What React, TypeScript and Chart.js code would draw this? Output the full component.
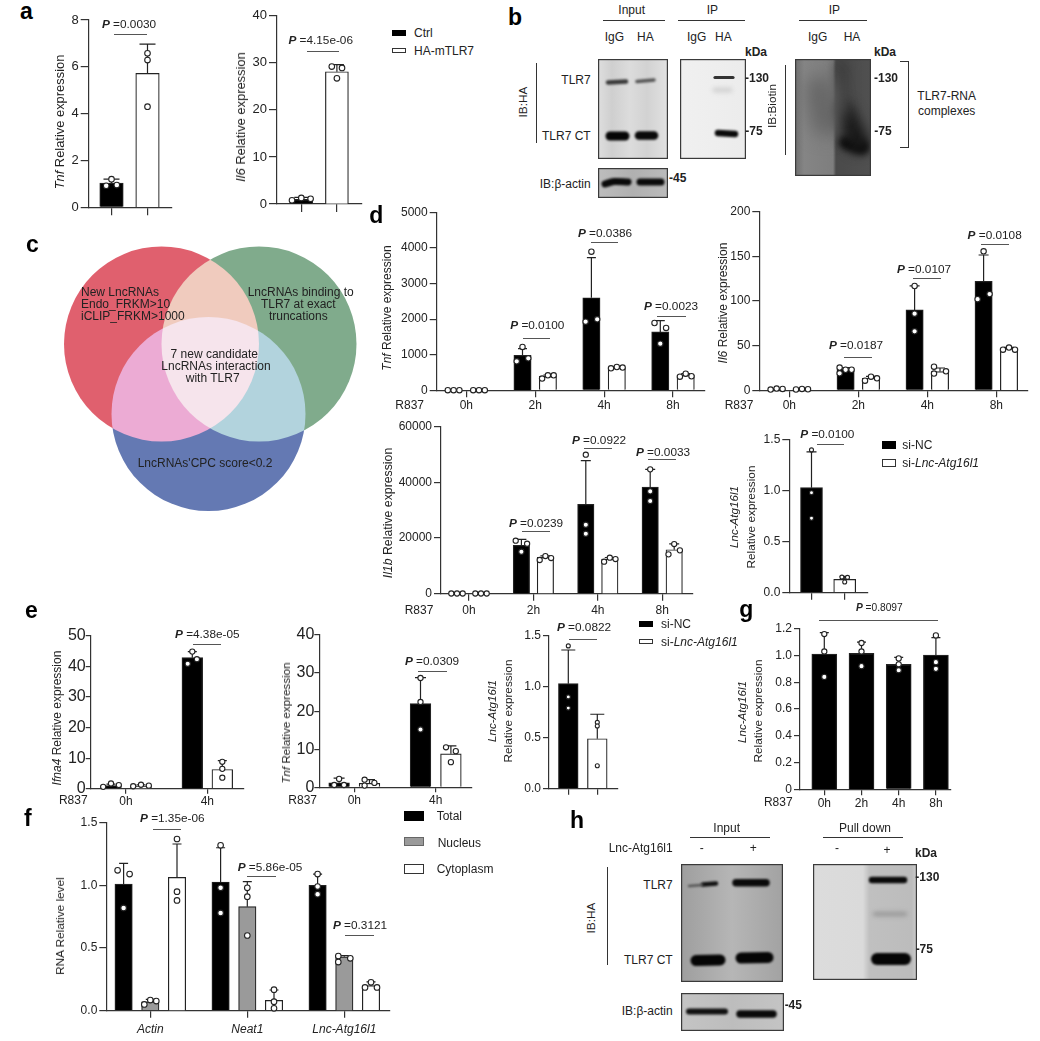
import React, { useEffect, useRef } from "react";
import { Chart, registerables } from "chart.js";

Chart.register(...registerables);
Chart.defaults.font.family = '"Liberation Sans", Arial, sans-serif';
Chart.defaults.color = "#222";

// ---------- panel a ----------
const aTnfMeans = [1.03, 5.72];
const aTnfTops = [1.2, 6.97];
const aTnfPoints = [[0.92, 1.2, 0.95], [6.58, 6.29, 4.3]];
const aIl6Means = [1.0, 28.1];
const aIl6Tops = [1.4, 29.6];
const aIl6Points = [[0.8, 1.3, 1.1], [29.2, 26.7, 28.9]];

// ---------- panel d ----------
const timeLabels = ["0h", "2h", "4h", "8h"];
const dTnfNcMeans = [3, 980, 2600, 1640];
const dTnfNcTops = [5, 1170, 3727, 1957];
const dTnfNcPoints = [[3, 3, 3], [815, 1217, 899], [1929, 3895, 1994], [1891, 1311, 1751]];
const dTnfSiMeans = [3, 390, 640, 420];
const dTnfSiTops = [5, 430, 660, 470];
const dTnfSiPoints = [[3, 3, 3], [328, 421, 421], [618, 655, 637], [384, 468, 395]];

const dIl6NcMeans = [1, 24, 90, 122];
const dIl6NcTops = [2, 25.5, 117, 151.5];
const dIl6NcPoints = [[0.8, 1.9, 1.5], [25.4, 19, 23, 23], [116.8, 85.8, 66], [102, 155.6, 107.8]];
const dIl6SiMeans = [1, 13.5, 21, 47];
const dIl6SiTops = [1.6, 15.5, 25, 48];
const dIl6SiPoints = [[0.9, 1.5, 1.2], [10.8, 15.3, 13.4], [26.5, 18.7, 21.3], [45.5, 47.8, 45.5]];

const dIl1bNcMeans = [80, 17365, 32100, 38320];
const dIl1bNcTops = [120, 19520, 47780, 44670];
const dIl1bNcPoints = [[80, 80, 80], [19040, 15090, 17960], [49940, 24790, 21560], [44670, 36770, 33300]];
const dIl1bSiMeans = [80, 13050, 12450, 15800];
const dIl1bSiTops = [120, 13600, 13000, 17900];
const dIl1bSiPoints = [[80, 80, 80], [12100, 13530, 12800], [11500, 12930, 12450], [14130, 17840, 15570]];

const dLncMeans = [1.03, 0.13];
const dLncTops = [1.38, 0.16];
const dLncPoints = [[1.4, 0.98, 0.73], [0.153, 0.105, 0.15]];

// ---------- panel e ----------
const eLabels = ["0h", "4h"];
const eIfnaNcMeans = [1.0, 42.9];
const eIfnaNcTops = [1.5, 44.9];
const eIfnaNcPoints = [[0.6, 1.7, 1.2], [40.9, 44.9, 42.4]];
const eIfnaSiMeans = [0.9, 6.3];
const eIfnaSiTops = [1.3, 9.2];
const eIfnaSiPoints = [[0.8, 1.3, 1.0], [8.8, 6.5, 3.6]];
const eTnfNcMeans = [1.2, 22];
const eTnfNcTops = [2.4, 28.8];
const eTnfNcPoints = [[0.6, 2.2, 0.6], [28.7, 22.4, 15.2]];
const eTnfSiMeans = [1.05, 8.8];
const eTnfSiTops = [2.0, 10.9];
const eTnfSiPoints = [[0.45, 2.0, 1.15], [10.5, 6.6, 9.5]];
const eLncMeans = [1.03, 0.49];
const eLncTops = [1.36, 0.73];
const eLncPoints = [[1.4, 0.9, 0.79], [0.65, 0.614, 0.225]];

// ---------- panel f ----------
const fLabels = ["Actin", "Neat1", "Lnc-Atg16l1"];
const fTotalMeans = [1.01, 1.027, 1.0];
const fTotalTops = [1.176, 1.3, 1.09];
const fTotalPoints = [[1.12, 0.82, 1.09], [1.32, 0.98, 0.78], [1.09, 0.99, 0.93]];
const fNucleusMeans = [0.07, 0.83, 0.43];
const fNucleusTops = [0.09, 1.03, 0.44];
const fNucleusPoints = [[0.05, 0.085, 0.077], [0.98, 0.91, 0.6], [0.436, 0.388, 0.418]];
const fCytoMeans = [1.064, 0.082, 0.2];
const fCytoTops = [1.33, 0.165, 0.23];
const fCytoPoints = [[1.37, 0.95, 0.88], [0.168, 0.072, 0.019], [0.186, 0.226, 0.186]];

// ---------- panel g ----------
const gMeans = [1.01, 1.016, 0.934, 1.003];
const gTops = [1.17, 1.1, 0.986, 1.133];
const gPoints = [[1.16, 1.03, 0.84], [1.093, 1.03, 0.92], [0.978, 0.934, 0.89], [1.15, 0.95, 0.9]];

// ---------- panel c ----------
const vennSets = [
  { label: "New LncRNAs", x: 161.5, y: 344, r: 97.5, color: "#e0606e" },
  { label: "LncRNAs binding", x: 259, y: 344, r: 97.5, color: "#80ab8c" },
  { label: "CPC score", x: 208.5, y: 414, r: 97, color: "#6479b3" },
];

const INK = "#222";
const BLACK = "#000";
const WHITE = "#fff";
const GREY = "#9a9a9a";

type Series = {
  off: number;
  colors: string[];
  means: number[];
  tops: number[];
  points: number[][];
  cols?: Record<number, number[]>;
};
type Panel = {
  L: number; T: number; R: number; B: number;
  yMax: number; step: number; dec: number; zero?: boolean;
  labels: string[]; c0: number; spacing: number;
  series: Series[];
  barW: number; dodge: number; r: number; cap: number;
  fontY: number; fontX: number; tickLen: number; xPad: number; yPad: number; italicX?: boolean;
};

const two = (a: string) => [a, a, a, a];

const panels: Panel[] = [
  {
    L: 88.7, T: 20, R: 172, B: 207.3, yMax: 8, step: 2, dec: 0, labels: ["", ""], c0: 111.5, spacing: 36,
    series: [{ off: 0, colors: [BLACK, WHITE], means: aTnfMeans, tops: aTnfTops, points: aTnfPoints }],
    barW: 23.5, dodge: 5.3, r: 2.8, cap: 8, fontY: 13, fontX: 12, tickLen: 8, xPad: 2, yPad: 2,
  },
  {
    L: 277, T: 15.7, R: 361.7, B: 204, yMax: 40, step: 10, dec: 0, labels: ["", ""], c0: 301.3, spacing: 35.6,
    series: [{ off: 0, colors: [BLACK, WHITE], means: aIl6Means, tops: aIl6Tops, points: aIl6Points, cols: { 1: [-0.55, 0, 0.55] } }],
    barW: 23, dodge: 9.3, r: 2.8, cap: 7, fontY: 13, fontX: 12, tickLen: 8, xPad: 2, yPad: 2,
  },
  {
    L: 436.7, T: 212.3, R: 704.3, B: 390.3, yMax: 5000, step: 1000, dec: 0, labels: timeLabels, c0: 466.3, spacing: 68.9,
    series: [
      { off: -12.7, colors: two(BLACK), means: dTnfNcMeans, tops: dTnfNcTops, points: dTnfNcPoints },
      { off: 12.7, colors: two(WHITE), means: dTnfSiMeans, tops: dTnfSiTops, points: dTnfSiPoints },
    ],
    barW: 17.3, dodge: 5.8, r: 2.7, cap: 4.5, fontY: 12, fontX: 12, tickLen: 7, xPad: 1, yPad: 2,
  },
  {
    L: 759.3, T: 211.7, R: 1028, B: 390.3, yMax: 200, step: 50, dec: 0, labels: timeLabels, c0: 789.3, spacing: 69,
    series: [
      { off: -12.7, colors: two(BLACK), means: dIl6NcMeans, tops: dIl6NcTops, points: dIl6NcPoints, cols: { 1: [-1, -1, 0, 1] } },
      { off: 12.7, colors: two(WHITE), means: dIl6SiMeans, tops: dIl6SiTops, points: dIl6SiPoints, cols: { 2: [-1, -1, 1] } },
    ],
    barW: 17.3, dodge: 6, r: 2.7, cap: 5, fontY: 12, fontX: 12, tickLen: 7, xPad: 1, yPad: 2,
  },
  {
    L: 441, T: 426.7, R: 692.3, B: 593.7, yMax: 60000, step: 20000, dec: 0, labels: timeLabels, c0: 469, spacing: 64.4,
    series: [
      { off: -12, colors: two(BLACK), means: dIl1bNcMeans, tops: dIl1bNcTops, points: dIl1bNcPoints },
      { off: 12, colors: two(WHITE), means: dIl1bSiMeans, tops: dIl1bSiTops, points: dIl1bSiPoints, cols: { 3: [-1, 0, 1] } },
    ],
    barW: 16.4, dodge: 5.7, r: 2.6, cap: 5, fontY: 12, fontX: 12, tickLen: 7, xPad: 3, yPad: 2,
  },
  {
    L: 789.3, T: 439.7, R: 867.3, B: 592.7, yMax: 1.5, step: 0.5, dec: 1, labels: ["", ""], c0: 811.5, spacing: 33.2,
    series: [{ off: 0, colors: [BLACK, WHITE], means: dLncMeans, tops: dLncTops, points: dLncPoints }],
    barW: 22, dodge: 2.8, r: 2, cap: 5, fontY: 12, fontX: 12, tickLen: 7, xPad: 2, yPad: 2,
  },
  {
    L: 90.7, T: 636, R: 243.7, B: 788.7, yMax: 50, step: 10, dec: 0, labels: eLabels, c0: 126, spacing: 81.3,
    series: [
      { off: -15, colors: two(BLACK), means: eIfnaNcMeans, tops: eIfnaNcTops, points: eIfnaNcPoints, cols: { 0: [-1.7, 0, 1.7] } },
      { off: 15, colors: two(WHITE), means: eIfnaSiMeans, tops: eIfnaSiTops, points: eIfnaSiPoints, cols: { 0: [-1.7, 0, 1.7] } },
    ],
    barW: 20.7, dodge: 4.6, r: 2.6, cap: 4.5, fontY: 16, fontX: 12, tickLen: 5, xPad: 1, yPad: 0,
  },
  {
    L: 319.3, T: 635, R: 472, B: 787.3, yMax: 40, step: 10, dec: 0, labels: eLabels, c0: 354.3, spacing: 81.4,
    series: [
      { off: -15.2, colors: two(BLACK), means: eTnfNcMeans, tops: eTnfNcTops, points: eTnfNcPoints },
      { off: 15.2, colors: two(WHITE), means: eTnfSiMeans, tops: eTnfSiTops, points: eTnfSiPoints, cols: { 0: [-1, -1, 1] } },
    ],
    barW: 20.7, dodge: 4.9, r: 2.6, cap: 5.5, fontY: 16, fontX: 12, tickLen: 5, xPad: 1, yPad: 0,
  },
  {
    L: 549, T: 635.7, R: 617.3, B: 788.7, yMax: 1.5, step: 0.5, dec: 1, labels: ["", ""], c0: 568.3, spacing: 29,
    series: [{ off: 0, colors: [BLACK, WHITE], means: eLncMeans, tops: eLncTops, points: eLncPoints, cols: { 1: [0, 0, 0] } }],
    barW: 19.7, dodge: 3, r: 2, cap: 7, fontY: 12, fontX: 12, tickLen: 6, xPad: 2, yPad: 2,
  },
  {
    L: 106.3, T: 822.7, R: 390, B: 1010.7, yMax: 1.5, step: 0.5, dec: 1, labels: fLabels, c0: 150.3, spacing: 97,
    series: [
      { off: -26.7, colors: two(BLACK), means: fTotalMeans, tops: fTotalTops, points: fTotalPoints },
      { off: 0, colors: two(GREY), means: fNucleusMeans, tops: fNucleusTops, points: fNucleusPoints, cols: { 2: [-1, -1, 1] } },
      { off: 26.7, colors: two(WHITE), means: fCytoMeans, tops: fCytoTops, points: fCytoPoints },
    ],
    barW: 17.4, dodge: 6, r: 2.8, cap: 4.5, fontY: 12, fontX: 12, tickLen: 7, xPad: 4.5, yPad: 2, italicX: true,
  },
  {
    L: 800, T: 628.7, R: 950.7, B: 789.3, yMax: 1.2, step: 0.2, dec: 1, zero: true, labels: timeLabels, c0: 824.3, spacing: 37.2,
    series: [{ off: 0, colors: [BLACK, BLACK, BLACK, BLACK], means: gMeans, tops: gTops, points: gPoints, cols: { 2: [0, 0, 0] } }],
    barW: 25, dodge: 4, r: 2.6, cap: 4.5, fontY: 12, fontX: 12, tickLen: 6, xPad: 1, yPad: 2,
  },
];

// Columns for overlapping replicates: neighbours closer than a marker spread sideways, in data order.
function columns(values: number[], pxPerUnit: number): number[] {
  const order = values.map((v, i) => [v, i]).sort((p, q) => p[0] - q[0]);
  const res = values.map(() => 0);
  let start = 0;
  for (let k = 1; k <= order.length; k++) {
    if (k === order.length || (order[k][0] - order[k - 1][0]) * pxPerUnit >= 6.5) {
      const idx = order.slice(start, k).map((o) => o[1]).sort((a, b) => a - b);
      idx.forEach((id, j) => { res[id] = idx.length === 1 ? 0 : j - (idx.length - 1) / 2; });
      if (idx.length === 2) { res[idx[0]] = -1; res[idx[1]] = 1; }
      start = k;
    }
  }
  return res;
}

const whiskers = {
  id: "whiskers",
  beforeDatasetsDraw(chart: any) {
    const { ctx, scales } = chart;
    chart.data.datasets.forEach((ds: any) => {
      if (!ds.whisk) return;
      ds.whisk.forEach((w: any) => {
        const x = scales.x.getPixelForValue(w.x);
        const y0 = scales.y.getPixelForValue(w.mean);
        const y1 = scales.y.getPixelForValue(w.top);
        ctx.save();
        ctx.strokeStyle = INK;
        ctx.lineWidth = 1.2;
        ctx.beginPath();
        ctx.moveTo(x, y0);
        ctx.lineTo(x, y1);
        ctx.moveTo(x - ds.cap, y1);
        ctx.lineTo(x + ds.cap, y1);
        ctx.stroke();
        ctx.restore();
      });
    });
  },
};

function BarPanel({ p }: { p: Panel }) {
  const ref = useRef<HTMLCanvasElement>(null);
  const x0 = Math.floor(p.L - 52);
  const y0 = Math.floor(p.T - 11);
  const w = Math.ceil(p.R + 8 - x0);
  const h = Math.ceil(p.B + 26 - y0);
  useEffect(() => {
    const pxPerUnit = (p.B - p.T) / p.yMax;
    const datasets: any[] = [];
    p.series.forEach((s) => {
      datasets.push({
        type: "bar", order: 1, grouped: false, barThickness: p.barW,
        data: s.means.map((m, i) => ({ x: i + s.off / p.spacing, y: m })),
        backgroundColor: s.colors,
        borderColor: INK, borderWidth: 1.2,
        cap: p.cap,
        whisk: s.means.map((m, i) => ({ x: i + s.off / p.spacing, mean: m, top: s.tops[i] })),
      });
      datasets.push({
        type: "scatter", order: 0, clip: false, showLine: false,
        data: s.points.flatMap((vals, i) => {
          const cols = s.cols?.[i] ?? columns(vals, pxPerUnit);
          return vals.map((v, j) => ({ x: i + (s.off + cols[j] * p.dodge) / p.spacing, y: v }));
        }),
        pointRadius: p.r, pointBorderWidth: 1.1, pointBorderColor: INK, pointBackgroundColor: WHITE,
      });
    });
    const chart = new Chart(ref.current!, {
      type: "bar",
      data: { datasets },
      plugins: [whiskers],
      options: {
        animation: false, responsive: false, devicePixelRatio: 1, events: [],
        layout: { autoPadding: false, padding: { top: p.T - y0, right: x0 + w - p.R, left: 0, bottom: 0 } },
        plugins: { legend: { display: false }, tooltip: { enabled: false } },
        scales: {
          x: {
            type: "linear", offset: false,
            min: (p.L - p.c0) / p.spacing, max: (p.R - p.c0) / p.spacing,
            afterBuildTicks(scale: any) { scale.ticks = p.labels.map((_, i) => ({ value: i })); },
            afterFit(scale: any) { scale.height = y0 + h - p.B; },
            grid: { offset: false, drawOnChartArea: false, drawTicks: true, tickLength: p.tickLen, color: "#333", lineWidth: 1.2 },
            border: { color: "#333", width: 1.2 },
            ticks: {
              autoSkip: false, maxRotation: 0, minRotation: 0, padding: p.xPad, color: INK,
              font: { size: p.fontX, style: p.italicX ? "italic" : "normal" },
              callback: (v: any) => p.labels[v] ?? "",
            },
          },
          y: {
            type: "linear", min: 0, max: p.yMax,
            afterFit(scale: any) { scale.width = p.L - x0; },
            grid: { drawOnChartArea: false, drawTicks: true, tickLength: p.tickLen, color: "#333", lineWidth: 1.2 },
            border: { color: "#333", width: 1.2 },
            ticks: {
              stepSize: p.step, padding: p.yPad, color: INK, font: { size: p.fontY },
              callback: (v: any) => (p.zero && v === 0 ? "0" : Number(v).toFixed(p.dec)),
            },
          },
        },
      } as any,
    } as any);
    return () => chart.destroy();
  }, []);
  return <canvas ref={ref} width={w} height={h} style={{ position: "absolute", left: x0, top: y0, width: w, height: h }} />;
}

function Venn() {
  const ref = useRef<HTMLCanvasElement>(null);
  useEffect(() => {
    const screen = {
      id: "screen",
      beforeDatasetsDraw(c: any) { c.ctx.globalCompositeOperation = "screen"; },
      afterDatasetsDraw(c: any) { c.ctx.globalCompositeOperation = "source-over"; },
    };
    const chart = new Chart(ref.current!, {
      type: "bubble",
      data: {
        datasets: vennSets.map((s) => ({
          label: s.label, data: [{ x: s.x, y: s.y, r: s.r }], backgroundColor: s.color, borderWidth: 0, clip: false,
        })),
      },
      plugins: [screen],
      options: {
        animation: false, responsive: false, devicePixelRatio: 1, events: [],
        layout: { autoPadding: false, padding: 0 },
        plugins: { legend: { display: false }, tooltip: { enabled: false } },
        scales: {
          x: { type: "linear", display: false, min: 50, max: 370 },
          y: { type: "linear", display: false, min: 235, max: 525, reverse: true },
        },
      } as any,
    } as any);
    return () => chart.destroy();
  }, []);
  return <canvas ref={ref} width={320} height={290} style={{ position: "absolute", left: 50, top: 235, width: 320, height: 290 }} />;
}

type Band = { pts: number[][]; w: number; c: string; blur: number };
type BlotSpec = { rect: number[]; stops: [number, string][]; bands: Band[] };
const band = (c: string, w: number, blur: number, ...pts: number[][]): Band => ({ pts, w, c, blur });

const blots: BlotSpec[] = [
  {
    rect: [598, 59, 70, 100],
    stops: [[0, "#dedede"], [0.2, "#cfcfcf"], [0.45, "#dcdcdc"], [0.7, "#d2d2d2"], [1, "#e2e2e2"]],
    bands: [
      band("#3a3a3a", 4.5, 0.8, [608, 82.5], [626, 81.5]),
      band("#555", 3.5, 0.8, [637, 81.5], [654, 80]),
      band("#050505", 9, 1, [610, 136], [625, 136]),
      band("#0a0a0a", 8.5, 1, [639, 135.5], [654, 135.5]),
    ],
  },
  {
    rect: [680, 59, 66, 100],
    stops: [[0, "#f0f0f0"], [1, "#ececec"]],
    bands: [
      band("#333", 3.2, 0.7, [715, 77.5], [733, 77.5]),
      band("#d2d2d2", 5, 2, [715, 90], [730, 90]),
      band("#0a0a0a", 6.5, 1, [718, 133], [735, 134]),
    ],
  },
  {
    rect: [598, 168, 70, 30],
    stops: [[0, "#bdbdbd"], [0.5, "#b0b0b0"], [1, "#bbbbbb"]],
    bands: [
      band("#0a0a0a", 7, 1, [605, 184], [614, 181.5], [628, 182]),
      band("#0a0a0a", 7, 1, [640, 182], [661, 182]),
    ],
  },
  {
    rect: [795, 59, 76, 117],
    stops: [[0, "#6f6f6f"], [0.12, "#858585"], [0.5, "#7e7e7e"], [0.54, "#4a4a4a"], [1, "#505050"]],
    bands: [
      band("#666", 28, 9, [820, 90], [826, 122]),
      band("#3c3c3c", 12, 6, [842, 65], [842, 110]),
      band("#191919", 22, 6, [843, 112], [852, 130], [858, 142]),
      band("#030303", 14, 3, [846, 142], [862, 147]),
    ],
  },
  {
    rect: [681, 864, 102, 118],
    stops: [[0, "#9e9e9e"], [0.5, "#b6b6b6"], [1, "#a2a2a2"]],
    bands: [
      band("#555", 2.5, 0.8, [689, 886], [702, 885]),
      band("#111", 4.5, 0.8, [703, 884.5], [716, 883.5]),
      band("#0a0a0a", 7.5, 1, [736, 882.7], [766, 882.7]),
      band("#050505", 11, 1, [696, 960.5], [720, 960]),
      band("#050505", 11, 1, [741, 958], [768, 957.5]),
    ],
  },
  {
    rect: [813, 864, 104, 116],
    stops: [[0, "#dcdcdc"], [0.48, "#dadada"], [0.54, "#c0c0c0"], [0.95, "#bcbcbc"], [1, "#cdcdcd"]],
    bands: [
      band("#0a0a0a", 6.5, 1, [872, 880], [904, 880]),
      band("#999", 4.5, 2, [875, 914], [905, 914]),
      band("#050505", 12, 1.2, [877, 959], [905, 959]),
    ],
  },
  {
    rect: [681, 993, 103, 38],
    stops: [[0, "#c4c4c4"], [0.5, "#bdbdbd"], [1, "#c4c4c4"]],
    bands: [
      band("#111", 6, 1, [689, 1011.5], [725, 1011.5]),
      band("#0a0a0a", 7.5, 1, [740, 1014], [773, 1014]),
    ],
  },
];

function Blot({ b }: { b: BlotSpec }) {
  const ref = useRef<HTMLCanvasElement>(null);
  const [x, y, w, h] = b.rect;
  useEffect(() => {
    const look = {
      id: "look",
      beforeDraw(c: any) {
        const g = c.ctx.createLinearGradient(0, 0, w, 0);
        b.stops.forEach(([o, col]) => g.addColorStop(o, col));
        c.ctx.fillStyle = g;
        c.ctx.fillRect(0, 0, w, h);
      },
      beforeDatasetDraw(c: any, args: any) { c.ctx.filter = `blur(${c.data.datasets[args.index].blur}px)`; },
      afterDatasetDraw(c: any) { c.ctx.filter = "none"; },
      afterDraw(c: any) {
        c.ctx.strokeStyle = "#3a3a3a";
        c.ctx.lineWidth = 1.2;
        c.ctx.strokeRect(0.6, 0.6, w - 1.2, h - 1.2);
      },
    };
    const chart = new Chart(ref.current!, {
      type: "line",
      data: {
        datasets: b.bands.map((k) => ({
          data: k.pts.map((q) => ({ x: q[0], y: q[1] })),
          borderColor: k.c, borderWidth: k.w, borderCapStyle: "round", borderJoinStyle: "round",
          pointRadius: 0, tension: 0.3, blur: k.blur, fill: false,
        })),
      },
      plugins: [look],
      options: {
        animation: false, responsive: false, devicePixelRatio: 1, events: [],
        layout: { autoPadding: false, padding: 0 },
        plugins: { legend: { display: false }, tooltip: { enabled: false } },
        scales: {
          x: { type: "linear", display: false, min: x, max: x + w },
          y: { type: "linear", display: false, min: y, max: y + h, reverse: true },
        },
      } as any,
    } as any);
    return () => chart.destroy();
  }, []);
  return <canvas ref={ref} width={w} height={h} style={{ position: "absolute", left: x, top: y, width: w, height: h }} />;
}

// ---------- text ----------
type TP = { x: number; y: number; a?: "c" | "l" | "r"; s?: number; r?: boolean; b?: boolean; c?: string; children: React.ReactNode };
const T = ({ x, y, a = "c", s = 12, r, b, c = INK, children }: TP) => (
  <div style={{
    position: "absolute", left: r ? Math.round(x) : x, top: y, fontSize: s, lineHeight: r ? "14px" : 1, whiteSpace: "pre", color: c,
    fontWeight: b ? 700 : 400, fontFamily: '"Liberation Sans", Arial, sans-serif',
    transform: `translate(${a === "c" ? -50 : a === "r" ? -100 : 0}%,-50%)${r ? " rotate(-90deg)" : ""}`,
  }}>{children}</div>
);
const Rule = ({ x1, y1, x2, y2, c = "#333", t = 1.2 }: { x1: number; y1: number; x2: number; y2: number; c?: string; t?: number }) => (
  <div style={{
    position: "absolute", left: x1, top: y1, background: c,
    width: x1 === x2 ? t : x2 - x1, height: y1 === y2 ? t : y2 - y1,
  }} />
);
const Swatch = ({ x, y, w, h, bg, bd }: { x: number; y: number; w: number; h: number; bg: string; bd?: string }) => (
  <div style={{ position: "absolute", left: x, top: y, width: w, height: h, boxSizing: "border-box", background: bg, border: `1.2px solid ${bd ?? bg}` }} />
);

const pValues: [string, number, number, number, number, number, number?][] = [
  ["0.0030", 129, 25, 114, 147, 33.7],
  ["4.15e-06", 320.7, 41, 306.7, 339, 50.7],
  ["0.0100", 537.3, 326, 522.7, 550.3, 337.7],
  ["0.0386", 605, 234, 590.7, 618.3, 242.3],
  ["0.0023", 671, 306.7, 657.3, 685.7, 316.3],
  ["0.0187", 856, 345.7, 844, 872, 357.3],
  ["0.0107", 924, 269.7, 913.3, 941.3, 278.3],
  ["0.0108", 994.7, 235.7, 981, 1008.7, 244],
  ["0.0239", 536, 524, 521.7, 550, 531],
  ["0.0922", 599, 440.7, 584, 612, 448.3],
  ["0.0033", 663, 452.7, 648.3, 676.3, 459],
  ["0.0100", 827.3, 435, 816.7, 844, 444.3],
  ["4.38e-05", 207.3, 635, 192.7, 220.7, 643.7],
  ["0.0309", 432, 661.7, 418.3, 446.7, 671],
  ["0.0822", 584, 628, 569, 597, 638.7],
  ["1.35e-06", 172.3, 819, 153.3, 181.3, 829],
  ["5.86e-05", 270, 868, 247.3, 275.7, 876.3],
  ["0.3121", 360, 926, 345.3, 374, 935],
  ["0.8097", 879.3, 607.7, 819.3, 938.3, 619.7, 10.2],
];

const panelLetters: [string, number, number][] = [
  ["a", 20, 18.7], ["b", 508, 25], ["c", 26, 251.7], ["d", 369.3, 223],
  ["e", 25, 618.3], ["f", 24, 825.7], ["g", 739.3, 616.7], ["h", 570, 828.3],
];

const vennTexts: [string, number, number, "c" | "l"][] = [
  ["New LncRNAs", 81, 292.3, "l"], ["Endo_FRKM>10", 81, 304, "l"], ["iCLIP_FRKM>1000", 81, 316, "l"],
  ["LncRNAs binding to", 300.7, 292.3, "c"], ["TLR7 at exact", 298.3, 304, "c"], ["truncations", 298.3, 316, "c"],
  ["7 new candidate", 214.3, 354, "c"], ["LncRNAs interaction", 216, 366, "c"], ["with TLR7", 212.7, 377.7, "c"],
  ["LncRNAs'CPC score<0.2", 205, 462.7, "c"],
];

const plainTexts: [string, number, number, "c" | "l" | "r"][] = [
  ["Input", 631.7, 10, "c"], ["IP", 712.3, 10, "c"], ["IP", 834.3, 10, "c"],
  ["IgG", 614.3, 36.7, "c"], ["HA", 645.3, 36.7, "c"], ["IgG", 696.7, 36.7, "c"], ["HA", 723.3, 36.7, "c"],
  ["IgG", 817.7, 36.7, "c"], ["HA", 852, 36.7, "c"],
  ["TLR7", 590.7, 80, "r"], ["TLR7 CT", 590.7, 136, "r"], ["IB:β-actin", 590.7, 184.3, "r"],
  ["TLR7-RNA", 946.7, 96, "c"], ["complexes", 946.7, 111, "c"],
  ["Input", 726.7, 827.7, "c"], ["Pull down", 865, 827.7, "c"],
  ["Lnc-Atg16l1", 672.7, 848.3, "r"], ["-", 701.7, 848.3, "c"], ["+", 753.3, 848.3, "c"], ["-", 837, 848.3, "c"], ["+", 887, 850, "c"],
  ["TLR7", 672.7, 885, "r"], ["TLR7 CT", 672.7, 960, "r"], ["IB:β-actin", 672.7, 1011, "r"],
  ["R837", 409.7, 404.7, "c"], ["R837", 739, 404.7, "c"], ["R837", 419, 610, "c"], ["R837", 73.3, 800, "c"], ["R837", 302.7, 800, "c"], ["R837", 778.3, 802.3, "c"],
  ["Ctrl", 414, 32.7, "l"], ["HA-mTLR7", 414, 50.7, "l"],
  ["Total", 436.7, 815.7, "l"], ["Nucleus", 437.7, 842.7, "l"], ["Cytoplasm", 436.7, 869, "l"],
  ["si-NC", 902.3, 445.3, "l"], ["si-NC", 661, 624.3, "l"],
];

const boldTexts: [string, number, number][] = [
  ["kDa", 756, 52], ["kDa", 885, 52], ["-130", 757, 78], ["-75", 754, 131.3], ["-130", 886, 78], ["-75", 883, 131.3], ["-45", 677.7, 178.3],
  ["kDa", 926, 853.3], ["-130", 927.3, 876.7], ["-75", 924.3, 949], ["-45", 793.3, 1005],
];

const rotatedPlain: [string, number, number][] = [
  ["IB:HA", 522.7, 101.7], ["IB:Biotin", 772.3, 106], ["IB:HA", 591, 918.3],
  ["RNA Relative level", 60, 926],
  ["Relative expression", 751, 516.7], ["Relative expression", 508.3, 710.8], ["Relative expression", 758.3, 711],
];
const rotatedGene: [string, string, number, number, number?][] = [
  ["Tnf", " Relative expression", 60, 122, 12.9],
  ["Il6", " Relative expression", 240.7, 117, 12.9],
  ["Tnf", " Relative expression", 387.3, 307.5],
  ["Il6", " Relative expression", 722.7, 303],
  ["Il1b", " Relative expression", 388.3, 512.5, 12.3],
  ["Lnc-Atg16l1", "", 734, 517, 11.6],
  ["Ifna4", " Relative expression", 56.7, 718.3],
  ["Tnf", " Relative expression", 285.7, 723, 11.6],
  ["Lnc-Atg16l1", "", 491.7, 711, 11.6],
  ["Lnc-Atg16l1", "", 741.7, 712, 11.6],
];
const siLabels: [number, number][] = [[902.3, 463.3], [661, 642.3]];

const rules: [number, number, number, number][] = [
  [602.7, 20, 665, 20], [678.3, 20, 745, 20], [799.3, 20, 866.7, 20],
  [535.7, 62.7, 535.7, 142.7], [785, 65, 785, 155],
  [900, 61, 908.3, 61], [900, 147, 908.3, 147], [908.3, 61, 908.3, 148],
  [690, 837.3, 770, 837.3], [822.7, 837.3, 902.7, 837.3], [607.3, 866.7, 607.3, 965],
];

const swatches: [number, number, number, number, string, string][] = [
  [391.7, 30, 14, 5.7, BLACK, BLACK], [391.7, 47.7, 14, 5.7, WHITE, "#333"],
  [882, 441.3, 14, 7.4, BLACK, BLACK], [882, 459.3, 14, 7.4, WHITE, "#333"],
  [638.7, 621, 14.6, 5.7, BLACK, BLACK], [638.7, 638.7, 14.6, 5.7, WHITE, "#333"],
  [404.3, 811, 20, 10, BLACK, BLACK], [404.3, 836.7, 20, 9.5, GREY, "#666"], [404.3, 864.3, 20, 9.7, WHITE, "#333"],
];

export default function App() {
  return (
    <div style={{ position: "absolute", left: 0, top: 0, width: 1040, height: 1041, background: "#fff", overflow: "hidden" }}>
      {panels.map((p, i) => <BarPanel key={i} p={p} />)}
      <Venn />
      {blots.map((b, i) => <Blot key={i} b={b} />)}
      {rules.map(([x1, y1, x2, y2], i) => <Rule key={i} x1={x1} y1={y1} x2={x2} y2={y2} />)}
      {swatches.map(([x, y, w, h, bg, bd], i) => <Swatch key={i} x={x} y={y} w={w} h={h} bg={bg} bd={bd} />)}
      {panelLetters.map(([t, x, y]) => <T key={t} x={x} y={y - 7.9} a="l" s={23} b c="#000">{t}</T>)}
      {vennTexts.map(([t, x, y, a], i) => <T key={i} x={x} y={y} a={a}>{t}</T>)}
      {plainTexts.map(([t, x, y, a], i) => <T key={i} x={x} y={y} a={a}>{t}</T>)}
      {boldTexts.map(([t, x, y], i) => <T key={i} x={x} y={y} b>{t}</T>)}
      {rotatedPlain.map(([t, x, y], i) => <T key={i} x={x} y={y} r s={11.8}>{t}</T>)}
      {rotatedGene.map(([g, t, x, y, s], i) => <T key={i} x={x} y={y} r s={s ?? 12}><i>{g}</i>{t}</T>)}
      {siLabels.map(([x, y], i) => <T key={i} x={x} y={y} a="l">si-<i>Lnc-Atg16l1</i></T>)}
      {pValues.map(([v, x, y, x1, x2, yl, s], i) => (
        <React.Fragment key={i}>
          <T x={x} y={y} s={s ?? 11.8}><b><i>P</i></b> ={v}</T>
          <Rule x1={x1} y1={yl} x2={x2} y2={yl} c="#555" />
        </React.Fragment>
      ))}
    </div>
  );
}
